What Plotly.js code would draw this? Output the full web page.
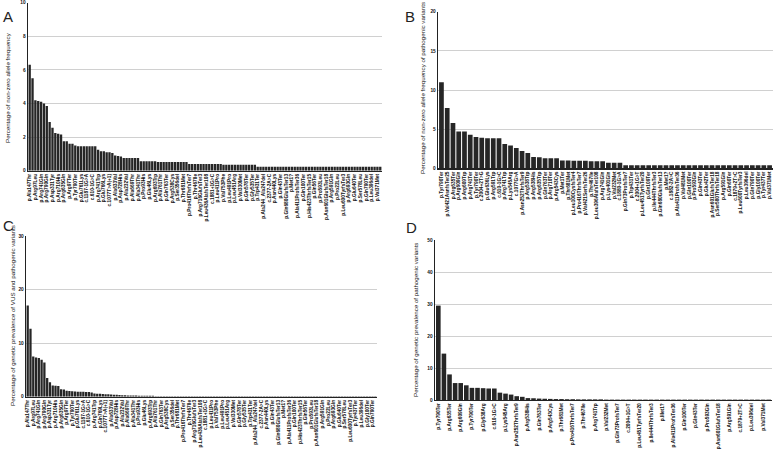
<!DOCTYPE html>
<html><head><meta charset="utf-8">
<script src="https://cdn.plot.ly/plotly-3.0.1.min.js"></script>
<style>html,body{margin:0;padding:0;background:#fff}#chart{width:777px;height:457px}</style>
</head><body><div id="chart"></div>
<script>
// ---- Panel A: non-zero allele frequency (all variants), ranked ----
const valuesA = [6.3,5.5,4.2,4.15,4.1,4.0,3.85,2.9,2.55,2.25,2.2,2.15,1.75,1.75,1.6,1.6,1.5,
  1.45,1.45,1.45,1.45,1.45,1.45,1.45,1.25,1.15,1.15,1.1,1.1,1.05,0.9,0.88,0.85,
  0.75,0.75,0.75,0.75,0.75,0.75,0.56,0.56,0.56,0.56,0.56,0.56,0.52,0.52,0.52,0.52,0.52,0.52,0.52,0.52,0.52,0.52,0.52,
  0.4,0.4,0.4,0.4,0.4,0.4,0.4,0.4,0.4,0.4,0.4,0.4,0.36,0.36,0.36,0.36,0.36,0.36,0.36,0.36,0.36,0.36,0.36,0.36,
  0.24,0.24,0.24,0.24,0.24,0.24,0.24,0.24,0.24,0.24,0.24,0.24,0.24,0.24,0.24,0.24,0.24,0.24,0.24,0.24,0.24,0.24,
  0.24,0.24,0.24,0.24,0.24,0.24,0.24,0.24,0.24,0.24,0.24,0.24,0.24,0.24,0.24,0.24,0.24,0.24,0.24,0.24,0.24,0.24];
const labelsA = ["p.Ala147Thr","p.Arg97Leu","p.Arg741Gln","p.Arg790Gln","p.Asp331Tyr","p.Arg710His","p.Arg635Gln",
  "p.Arg97Ter","p.Tyr790Ter","p.Glu761Lys","c.1187-1G>A","c.610-1G>C","p.Arg741Trp","p.Glu766Lys","c.1077T>A(+1)",
  "p.Ala633Val","p.Asp728His","p.Ala232Val","p.Ala669Thr","p.Ala341Thr","p.Pro93His","p.Glu46Lys","p.Arg693Trp",
  "p.Ala761Thr","p.Gln763Ter","p.Arg538Cys","p.Ser356del","p.Thr681Met","p.Pro416ThrfsTer7","p.Thr467Ile",
  "p.Arg716GlufsTer3","p.Leu436AlafsTer108","c.1881+1G>C","p.Leu411Pro","p.Val753Phe","p.Leu491Pro","p.Leu451Arg",
  "p.Val330Met","p.Gln578Ter","p.Gly535Ter","p.Trp431Ter","p.Ala244_Ala247del","c.2377-2A>C","p.Asn440Lys",
  "p.Gln43Ter","p.Gln680GlufsTer13","p.Met1?","p.Ala411ProfsTer36","p.Gln100Ter","p.His423ThrfsTer15","p.Gln56Ter",
  "p.Pro593Leu","p.Asn601GlufsTer18","p.Arg591Gln","p.Pro22Leu","p.Leu600TyrfsTer3","p.Arg693Gln","p.Glu640Ter",
  "p.Ser578Leu","p.Gln790Ter","p.Leu396del","p.Val371Met"];

// ---- Panel B: non-zero allele frequency of pathogenic variants ----
const valuesB = [11.0,7.7,5.8,4.7,4.7,4.3,4.0,3.9,3.85,3.85,3.85,3.1,2.9,2.6,2.2,1.95,1.45,1.4,1.3,1.3,1.3,
  1.0,1.0,0.95,0.95,0.95,0.9,0.9,0.9,0.7,0.7,0.7,
  0.4,0.4,0.4,0.4,0.4,0.4,0.4,0.4,0.4,0.4,0.4,0.4,0.4,0.4,0.4,0.4,0.4,0.4,0.4,0.4,0.4,0.4,0.4,0.4,0.4,0.4];
const labelsB = ["p.Tyr790Ter","p.Val421AsnfsTer25","p.Arg635Ter","p.Arg609Gln","p.Arg609Trp","p.Arg741Ter",
  "p.Tyr790Ter","c.2004+2T>G","p.Glu636Lys","p.Arg591Trp","c.610-1G>C","p.Arg741Trp","p.Lys545Arg","c.1077G>A",
  "p.Asn252ThrfsTer9","p.Arg538Trp","p.Arg538His","p.Arg635Trp","p.Gln763Ter","p.Arg710Ter","p.Arg543Cys",
  "p.Met1Ter","p.Thr681Met","p.Leu100CysfsTer4","p.Pro416ThrfsTer7","p.Val421SerfsTer26","p.Thr467Ile",
  "p.Leu396AlafsTer108","p.Arg741Gln","p.Lys401Gln","p.Val232Met","c.1880-1G>A","p.Gln73ProfsTer7","p.Trp431Ter",
  "c.2004+1G>T","p.Leu451TyrfsTer20","p.Gln109Ter","p.Ile444ThrfsTer3","p.Gln680GlufsTer13","p.Met1?",
  "c.1882-2A>C","p.Ala411ProfsTer36","p.Val481Met","p.Gln100Ter","p.Pro593Gln","p.Gln43Ter","p.Glu42Ter",
  "p.Asn601GlufsTer18","p.Ser580ThrfsTer18","p.Arg591Gln","p.Gln60Ter","c.1879+2T>C","p.Leu600TyrfsTer3",
  "p.Leu396del","p.Gln790Ter","p.Gly100Ter","p.Tyr437Ter","p.Val371Met"];

// ---- Panel C: genetic prevalence of VUS and pathogenic variants ----
const valuesC = [17.0,12.7,7.5,7.3,7.2,6.9,6.4,3.5,2.7,2.1,2.05,2.0,
  1.4,1.35,1.1,1.05,1.0,0.95,0.9,0.9,0.9,0.85,0.85,0.8,
  0.6,0.55,0.55,0.5,0.45,0.45,0.4,0.35,0.35,0.3,
  0.25,0.25,0.2,0.2,0.2,0.2,0.15,0.15,0.15,0.15,0.15,0.15,
  0.1,0.1,0.1,0.1,0.1,0.1,0.1,0.1,0.1,0.1,0.1,0.1,0.1,0.1,0.1,0.1,0.1,0.1,0.1,0.1,
  0.1,0.1,0.1,0.1,0.1,0.1,0.1,0.1,0.1,0.1,0.1,0.1,0.1,0.1,0.1,0.1,0.1,0.1,
  0.07,0.07,0.07,0.07,0.07,0.07,0.07,0.07,0.07,0.07,0.07,0.07,0.07,0.07,0.07,0.07,0.07,0.07,0.07,0.07,0.07,0.07,
  0.07,0.07,0.07,0.07,0.07,0.07,0.07,0.07,0.07,0.07,0.07,0.07,0.07,0.07,0.07,0.07,0.07,0.07,0.07,0.07];
const labelsC = ["p.Ala147Thr","p.Arg97Leu","p.Arg741Gln","p.Arg790Gln","p.Asp331Tyr","p.Arg710His","p.Arg635Gln",
  "p.Arg97Ter","p.Tyr790Ter","p.Glu761Lys","c.1187-1G>A","c.610-1G>C","p.Arg741Trp","p.Gln769Lys","c.1077T>A(+1)",
  "p.Ala633Val","p.Asp728His","p.Ala232Val","p.Ala669Thr","p.Ala341Thr","p.Pro93His","p.Glu46Lys","p.Arg693Trp",
  "p.Ala761Thr","p.Gln763Ter","p.Arg538Cys","p.Ser356del","p.Thr681Met","p.Pro416ThrfsTer7","p.Thr467Ile",
  "p.Arg716GlufsTer3","p.Leu436AlafsTer108","c.1881+1G>C","p.Leu411Pro","p.Val753Phe","p.Leu491Pro","p.Leu451Arg",
  "p.Val330Met","p.Gln578Ter","p.Gly535Ter","p.Trp431Ter","p.Ala244_Ala247del","c.2377-2A>C","p.Asn440Lys",
  "p.Gln43Ter","p.Gln680GlufsTer13","p.Met1?","p.Ala411ProfsTer36","p.Gln100Ter","p.His423ThrfsTer15","p.Gln56Ter",
  "p.Pro593Leu","p.Asn601GlufsTer18","p.Arg591Gln","p.Pro22Leu","p.Arg693Gln","p.Glu640Ter","p.Ser578Leu",
  "p.Leu600TyrfsTer3","p.Tyr437Ter","p.Leu396del","p.Gly100Ter","p.Gln790Ter","p.Val371Met"];

// ---- Panel D: genetic prevalence of pathogenic variants ----
const valuesD = [29.5,14.5,8.0,5.3,5.3,4.6,3.8,3.8,3.7,3.6,3.6,2.3,2.0,1.7,1.2,1.0,0.6,0.55,0.45,0.4,
  0.35,0.3,0.3,0.25,0.25,0.2,0.2,0.2,0.2,0.2,
  0.12,0.12,0.12,0.12,0.12,0.12,0.12,0.12,0.12,0.12,0.12,0.12,0.12,0.12,0.12,
  0.12,0.12,0.12,0.12,0.12,0.12,0.12,0.12,0.12,0.12,0.12,0.12,0.12,0.12,0.12];
const labelsD = ["p.Tyr790Ter","p.Arg635Ter","p.Arg609Gln","p.Tyr790Ter","p.Gly638Arg","c.610-1G>C",
  "p.Lys545Arg","p.Asn252ThrfsTer9","p.Arg538His","p.Gln763Ter","p.Arg543Cys","p.Thr681Met",
  "p.Pro416ThrfsTer7","p.Thr467Ile","p.Arg741Trp","p.Val232Met","p.Gln73ProfsTer7","c.2004+1G>T",
  "p.Leu451TyrfsTer20","p.Ile444ThrfsTer3","p.Met1?","p.Ala411ProfsTer36","p.Gln100Ter","p.Gln43Ter",
  "p.Pro593Gln","p.Asn601GlufsTer18","p.Arg591Gln","c.1879+2T>C","p.Leu396del","p.Val371Met"];

const panels = [
  {vals: valuesA, labs: labelsA, step: 2, ax: "", ymax: 10, dtick: 2,
   dom: [[0.036,0.4916],[0.6265,0.9941]]},
  {vals: valuesB, labs: labelsB, step: 1, ax: "2", ymax: 20, dtick: 5,
   dom: [[0.5637,0.9949],[0.6317,0.9744]]},
  {vals: valuesC, labs: labelsC, step: 2, ax: "3", ymax: 30, dtick: 10,
   dom: [[0.0335,0.4852],[0.1320,0.4836]]},
  {vals: valuesD, labs: labelsD, step: 2, ax: "4", ymax: 50, dtick: 10,
   dom: [[0.5598,0.9936],[0.1247,0.4748]]}
];

const FONT = "Liberation Sans, Arial, sans-serif";
const traces = [];
const layout = {
  width: 777, height: 457, margin: {l:0,r:0,t:0,b:0},
  paper_bgcolor: "#fff", plot_bgcolor: "#fff", showlegend: false,
  bargap: 0.18, font: {family: FONT, color: "#222"},
  annotations: []
};
panels.forEach(p => {
  traces.push({
    type: "bar", x: p.vals.map((v,i)=>i), y: p.vals,
    xaxis: "x"+p.ax, yaxis: "y"+p.ax,
    marker: {color: "#262626", line: {width: 0}}, hoverinfo: "skip"
  });
  layout["xaxis"+p.ax] = {
    domain: p.dom[0], anchor: "y"+p.ax, range: [-0.6, p.vals.length-0.4],
    tickmode: "array", tickvals: p.labs.map((l,i)=>i*p.step), ticktext: p.labs,
    tickangle: -90, tickfont: {size: 4.8, family: FONT, color: "#111", weight: "bold"},
    ticks: "", showgrid: false, zeroline: false,
    showline: true, linecolor: "#222", linewidth: 1.3, fixedrange: true
  };
  layout["yaxis"+p.ax] = {
    domain: p.dom[1], anchor: "x"+p.ax, range: [0, p.ymax], dtick: p.dtick,
    tickfont: {size: 4.8, family: FONT, color: "#111", weight: "bold"}, ticks: "",
    showgrid: true, gridcolor: "#d0d0d0", gridwidth: 1, zeroline: false,
    showline: true, linecolor: "#222", linewidth: 1.3, fixedrange: true
  };
});

const titles = [
  {text: "Percentage of non-zero allele frequency", x: 8, y: 88},
  {text: "Percentage of non-zero allele frequency of pathogenic variants", x: 423, y: 88},
  {text: "Percentage of genetic prevalence of VUS and pathogenic variants", x: 12, y: 316},
  {text: "Percentage of genetic prevalence of pathogenic variants", x: 415, y: 320}
];
titles.forEach(t => layout.annotations.push({
  text: t.text, xref: "paper", yref: "paper", x: t.x/777, y: 1 - t.y/457,
  textangle: -90, showarrow: false, xanchor: "center", yanchor: "middle",
  font: {size: 6.2, family: FONT, color: "#111"}
}));
const letters = [["A",8,17],["B",410,16],["C",8,225],["D",411,227]];
letters.forEach(l => layout.annotations.push({
  text: l[0], xref: "paper", yref: "paper", x: l[1]/777, y: 1 - l[2]/457,
  showarrow: false, xanchor: "center", yanchor: "middle",
  font: {size: 15, family: FONT, color: "#222"}
}));

Plotly.newPlot("chart", traces, layout, {staticPlot: true, displayModeBar: false});
</script></body></html>
